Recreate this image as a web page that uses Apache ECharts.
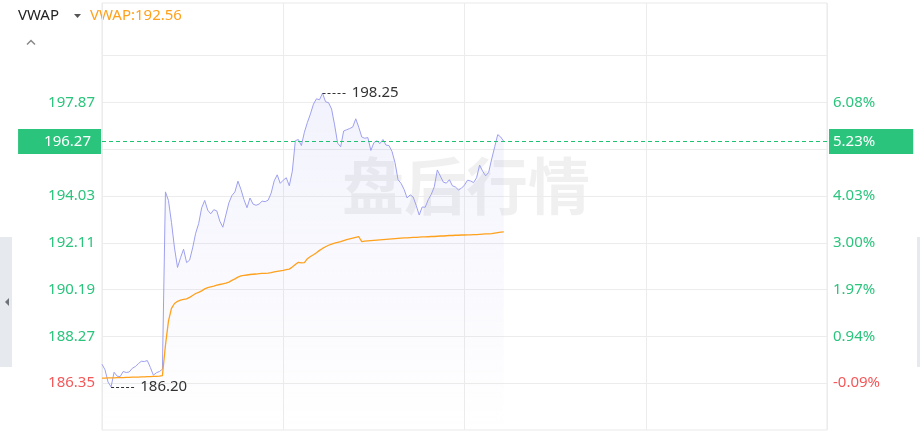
<!DOCTYPE html>
<html><head><meta charset="utf-8">
<script src="https://cdn.jsdelivr.net/npm/echarts@6/dist/echarts.min.js"></script>
<style>html,body{margin:0;padding:0;background:#fff}#c{width:920px;height:433px}</style>
</head><body><div id="c"></div>
<script>
// ---- data ----
const priceValues = [
187.13,186.90,186.40,186.20,186.80,186.64,186.62,186.83,186.79,186.81,
186.96,187.03,187.15,187.25,187.24,187.28,187.00,186.68,186.78,186.83,
186.92,194.20,193.85,192.95,191.90,191.10,191.50,191.85,191.30,191.40,
191.90,192.50,192.90,193.55,193.85,193.45,193.30,193.47,193.42,193.00,
192.75,193.25,193.75,194.05,194.20,194.64,194.30,193.88,193.55,193.95,
193.70,193.65,193.70,193.82,193.80,193.86,194.15,194.65,194.90,194.55,
194.68,194.78,194.45,195.05,196.30,196.35,196.10,196.65,197.05,197.40,
197.80,198.02,197.98,198.25,197.90,197.86,197.60,196.95,196.20,196.05,
196.70,196.75,196.80,196.86,197.20,196.85,196.45,196.40,196.43,195.90,
196.22,196.30,196.18,196.35,196.12,196.10,195.86,195.40,194.70,194.55,
194.30,193.95,194.08,193.99,193.65,193.25,193.58,193.57,193.88,194.10,
194.41,195.10,194.85,194.60,194.56,194.70,194.45,194.40,194.28,194.35,
194.48,194.68,194.65,194.58,194.78,195.30,195.05,194.86,195.00,195.55,
196.05,196.55,196.45,196.27
];
const vwapValues = [
186.56,186.56,186.57,186.57,186.57,186.58,186.58,186.58,186.59,186.59,
186.60,186.60,186.60,186.61,186.61,186.62,186.62,186.63,186.63,186.64,
186.66,187.90,188.90,189.42,189.62,189.71,189.76,189.79,189.81,189.87,
189.95,190.03,190.08,190.14,190.22,190.27,190.30,190.33,190.37,190.40,
190.43,190.46,190.50,190.57,190.63,190.70,190.75,190.77,190.79,190.81,
190.82,190.83,190.85,190.86,190.86,190.87,190.89,190.92,190.94,190.96,
190.98,191.01,191.03,191.12,191.22,191.31,191.29,191.30,191.46,191.55,
191.62,191.70,191.80,191.88,191.95,192.01,192.06,192.10,192.13,192.16,
192.20,192.24,192.27,192.30,192.33,192.36,192.16,192.18,192.19,192.20,
192.21,192.22,192.23,192.24,192.25,192.26,192.27,192.28,192.29,192.30,
192.31,192.31,192.32,192.33,192.33,192.34,192.35,192.35,192.36,192.37,
192.37,192.38,192.39,192.39,192.40,192.41,192.41,192.42,192.42,192.43,
192.43,192.44,192.44,192.45,192.45,192.46,192.47,192.48,192.48,192.49,
192.51,192.53,192.55,192.56
];
const priceTickValues = [186.35,188.27,190.19,192.11,194.03,195.95,197.87];
const pctTickLabels = ['-0.09%','0.94%','1.97%','3.00%','4.03%','5.06%','6.08%'];
const gridLineValues = [186.35,188.27,190.19,192.11,194.03,195.95,197.87,199.79];
const axisMin = 184.43, axisMax = 201.95;
const prevClose = 186.52;
const lastPrice = 196.27;
const lastPct = '5.23%';
const lastVwap = 192.56;
const sessionStartHour = 16, sessionMinutes = 240;
const categories = [];
for (let m = 0; m <= sessionMinutes; m++) {
  const h = sessionStartHour + Math.floor(m / 60), mm = m % 60;
  categories.push(String(h).padStart(2,'0') + ':' + String(mm).padStart(2,'0'));
}

const GREEN = '#2bc47d', RED = '#f3585a', ORANGE = '#ffa11c';
const FONT = '"Noto Sans", sans-serif';
const chart = echarts.init(document.getElementById('c'));

const maxVal = Math.max(...priceValues), minVal = Math.min(...priceValues);
const maxIdx = priceValues.indexOf(maxVal), minIdx = priceValues.indexOf(minVal);
const markerSpan = 8;
const firstCat = categories[0], lastCat = categories[categories.length - 1];
const tickColor = v => (v < prevClose ? RED : GREEN);
const pctLabel = v => { const i = priceTickValues.findIndex(t => Math.abs(t - v) < 1e-6); return i >= 0 ? pctTickLabels[i] : ''; };

const boxLabel = (pos, text, padding, distance) => ({
  show: true, position: pos, distance: distance, formatter: text, color: '#fff',
  backgroundColor: GREEN, padding: padding, fontSize: 15, lineHeight: 16, fontFamily: FONT
});
// one marker line per helper series, styled at markLine level
const markerSeries = (name, from, to, lineStyle, label) => ({
  name: name, type: 'line', data: [], symbol: 'none', silent: true, z: 5,
  markLine: { silent: true, symbol: 'none', animation: false, lineStyle: lineStyle, label: label,
    data: [[{ coord: from }, { coord: to }]] }
});
const extremeStyle = { color: '#333', type: [3, 2], width: 1 };
const lastStyle = { color: '#1fc173', type: [4, 3], width: 1 };
const extremeLabel = (val) => ({ show: true, position: 'end', distance: 5, formatter: val.toFixed(2), color: '#333', fontSize: 15, fontFamily: FONT });

chart.setOption({
  animation: false,
  textStyle: { fontFamily: FONT },
  grid: { left: 102, right: 93, top: 3, bottom: 3, show: true, borderColor: '#e9e9e9', borderWidth: 1 },
  xAxis: {
    type: 'category', data: categories, boundaryGap: false,
    axisLine: { show: false }, axisTick: { show: false }, axisLabel: { show: false },
    splitLine: { show: true, interval: (i) => i % 60 === 0, lineStyle: { color: '#ececec' } }
  },
  yAxis: [{
    type: 'value', min: axisMin, max: axisMax, position: 'left',
    axisLine: { show: false },
    axisTick: { show: false, customValues: gridLineValues },
    splitLine: { show: true, lineStyle: { color: '#ececec' } },
    axisLabel: { customValues: priceTickValues, formatter: v => v.toFixed(2), color: tickColor, fontSize: 15, margin: 7, fontFamily: FONT }
  }, {
    type: 'value', min: axisMin, max: axisMax, position: 'right',
    axisLine: { show: false },
    axisTick: { show: false, customValues: priceTickValues },
    splitLine: { show: false },
    axisLabel: { customValues: priceTickValues, formatter: pctLabel, color: tickColor, fontSize: 15, margin: 6, fontFamily: FONT }
  }],
  graphic: [
    { type: 'text', z: 0, style: { text: '盘后行情', x: 466, y: 186, align: 'center', verticalAlign: 'middle', font: 'bold 62px "Noto Sans CJK SC"', fill: 'rgba(0,0,0,0.06)' } },
    { type: 'text', style: { text: 'VWAP', x: 18, y: 16, verticalAlign: 'middle', font: '15px ' + FONT, fill: '#222' } },
    { type: 'polygon', shape: { points: [[74, 14], [81, 14], [77.5, 18]] }, style: { fill: '#555' } },
    { type: 'text', style: { text: 'VWAP:' + lastVwap.toFixed(2), x: 90, y: 16, verticalAlign: 'middle', font: '15px ' + FONT, fill: ORANGE } },
    { type: 'polyline', shape: { points: [[27, 44.5], [31, 40.5], [35, 44.5]] }, style: { stroke: '#888', lineWidth: 1.5, fill: null } },
    { type: 'rect', shape: { x: 0, y: 237, width: 12, height: 130 }, style: { fill: '#e6e9ee' } },
    { type: 'polygon', shape: { points: [[9, 298], [9, 306], [5, 302]] }, style: { fill: '#6e7379' } },
    { type: 'rect', shape: { x: 917, y: 237, width: 3, height: 130 }, style: { fill: '#e6e9ee' } }
  ],
  series: [{
    name: 'price', type: 'line', data: priceValues, showSymbol: false, symbol: 'none', clip: false,
    lineStyle: { color: '#9da0ee', width: 1 },
    areaStyle: { origin: 'start', color: new echarts.graphic.LinearGradient(0, 0, 0, 1, [
      { offset: 0, color: 'rgba(135,135,235,0.15)' }, { offset: 1, color: 'rgba(135,135,235,0)' }]) }
  }, {
    name: 'VWAP', type: 'line', data: vwapValues, showSymbol: false, symbol: 'none',
    lineStyle: { color: ORANGE, width: 1.3 }
  },
    markerSeries('last-left', [firstCat, lastPrice], [lastCat, lastPrice], lastStyle, boxLabel('start', lastPrice.toFixed(2), [5, 10, 4, 26], 1)),
    markerSeries('last-right', [firstCat, lastPrice], [lastCat, lastPrice], lastStyle, boxLabel('end', lastPct, [5, 38, 4, 4], 2)),
    markerSeries('max', [categories[maxIdx], maxVal], [categories[maxIdx + markerSpan], maxVal], extremeStyle, extremeLabel(maxVal)),
    markerSeries('min', [categories[minIdx], minVal], [categories[minIdx + markerSpan], minVal], extremeStyle, extremeLabel(minVal))
  ]
});
</script></body></html>
